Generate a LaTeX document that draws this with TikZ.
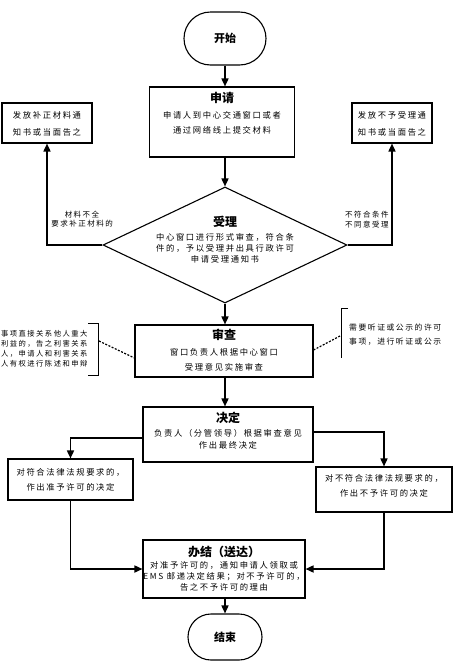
\documentclass[tikz,border=0pt]{standalone}
\usepackage{fontspec}
\newfontfamily\cjk{Noto Sans CJK SC}[LetterSpace=20]
\newfontfamily\cjkt{Noto Sans CJK SC}
\usetikzlibrary{arrows.meta,shapes.geometric,shapes.misc,calc}
\tikzset{
  box/.style={draw, line width=1.1pt, inner sep=0pt},
  term/.style={rounded rectangle, draw, line width=1.1pt, inner sep=0pt,
    font=\cjkt\bfseries\fontsize{11}{13}\selectfont},
  ttl/.style={inner sep=0pt, font=\cjkt\bfseries\fontsize{12}{14}\selectfont},
  body/.style={inner sep=0pt, align=center, font=\cjk\fontsize{8.3}{#1}\selectfont},
  arr/.style={line width=1.6pt, -{Triangle[length=8pt,width=7pt]}},
  ln/.style={line width=1.6pt},
  dsh/.style={line width=1.2pt, dash pattern=on 2pt off 1.5pt},
  brk/.style={line width=1pt}
}
\begin{document}
\begin{tikzpicture}[x=1pt,y=-1pt]
\useasboundingbox (0,0) rectangle (453,662);
\fill[white] (0,0) rectangle (453,662);
% start
\node[term, minimum width=82pt, minimum height=53pt] (start) at (225,38.5) {开始};
% apply
\node[box, minimum width=145pt, minimum height=70pt] (sq) at (222,122) {};
\node[ttl] (sqt) at (222,98) {申请};
\node[body=15] (sqb) at (222,122.5) {申请人到中心交通窗口或者\\通过网络线上提交材料};
% accept diamond
\node[diamond, draw, line width=1.1pt, minimum width=244pt, minimum height=116pt, inner sep=0pt] (sl) at (225,245) {};
\node[ttl] (slt) at (225,222) {受理};
\node[body=11] (slb) at (225,248) {中心窗口进行形式审查，符合条\\件的，予以受理并出具行政许可\\申请受理通知书};
% side boxes
\node[box, minimum width=90pt, minimum height=40pt] (bz) at (47,123) {};
\node[body=17] (bzt) at (47,123.5) {发放补正材料通\\知书或当面告之};
\node[box, minimum width=80pt, minimum height=40pt] (bys) at (392,123) {};
\node[body=17] (byst) at (392,123.5) {发放不予受理通\\知书或当面告之};
\node[body=9, font=\cjk\fontsize{7.5}{9}\selectfont] (l1) at (82,219) {材料不全\\要求补正材料的};
\node[body=10, align=left, anchor=west, font=\cjk\fontsize{7.5}{10}\selectfont] (l2) at (345,220) {不符合条件\\不同意受理};
% review
\node[box, minimum width=178pt, minimum height=52pt] (sc) at (224,351) {};
\node[ttl] (sct) at (224,335) {审查};
\node[body=15] (scb) at (224,359.5) {窗口负责人根据中心窗口\\受理意见实施审查};
% left annotation
\node[body=10, align=left, anchor=west, font=\cjk\fontsize{7.3}{10}\selectfont] (a1) at (1,349) {事项直接关系他人重大\\利益的，告之利害关系\\人，申请人和利害关系\\人有权进行陈述和申辩};
\draw[brk] (88,323) -- (98,323) -- (98,375) -- (88,375);
\coordinate (lb) at (99,341);
\draw[dsh] (lb) -- ($(sc.west)+(0,7)$);
% right annotation
\node[body=14, align=left, anchor=west, font=\cjk\fontsize{7.8}{14}\selectfont] (a2) at (349,335) {需要听证或公示的许可\\事项，进行听证或公示};
\draw[brk] (348,308) -- (341,308) -- (341,358);
\coordinate (rb) at (340,336);
\draw[dsh] (rb) -- ($(sc.east)+(0,-1)$);
% decision
\node[box, minimum width=170pt, minimum height=55pt] (jd) at (228,434.5) {};
\node[ttl] (jdt) at (228,418) {决定};
\node[body=12] (jdb) at (228,439) {负责人（分管领导）根据审查意见\\作出最终决定};
\node[box, minimum width=125pt, minimum height=41pt] (zy) at (70.5,479.5) {};
\node[body=15] (zyt) at (70.5,479.5) {对符合法律法规要求的，\\作出准予许可的决定};
\node[box, minimum width=136pt, minimum height=45pt] (by) at (384,489.5) {};
\node[body=15] (byt) at (384,485.5) {对不符合法律法规要求的，\\作出不予许可的决定};
% finish
\node[box, minimum width=162pt, minimum height=58pt] (bj) at (224,569) {};
\node[ttl] (bjt) at (224,552) {办结（送达）};
\node[body=11] (bjb) at (224,576) {对准予许可的，通知申请人领取或\\EMS 邮递决定结果；对不予许可的，\\告之不予许可的理由};
% end
\node[term, minimum width=74pt, minimum height=46pt] (end) at (225,637) {结束};
% connectors
\draw[arr] (start.south) -- (start.south |- sq.north);
\draw[arr] (sq.south -| sl.north) -- (sl.north);
\draw[arr] (sl.west) -| (bz.south);
\draw[arr] (sl.east) -| (bys.south);
\draw[arr] (sl.south) -- (sl.south |- sc.north);
\draw[arr] (sc.south -| sl.south) -- (sl.south |- jd.north);
\draw[arr] ($(jd.west)+(0,3.5)$) -| (zy.north);
\draw[arr] ($(jd.east)+(0,-2.5)$) -| (by.north);
\draw[arr] (zy.south) |- (bj.west);
\draw[arr] (by.south) |- (bj.east);
\draw[arr] (bj.south -| end.north) -- (end.north);
\end{tikzpicture}
\end{document}
